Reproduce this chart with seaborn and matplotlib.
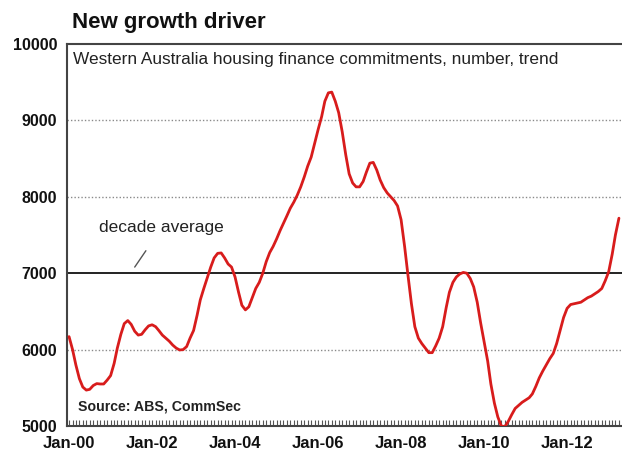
import numpy as np
import pandas as pd
import matplotlib
matplotlib.use("Agg")
import matplotlib.pyplot as plt
import matplotlib.dates as mdates
import seaborn as sns

# Western Australia housing finance commitments (number, trend), monthly from Jan-2000
y2000 = [6170, 6000, 5800, 5620, 5510, 5470, 5480, 5530, 5555, 5550, 5550, 5600]
y2001 = [5660, 5820, 6020, 6200, 6340, 6380, 6330, 6240, 6190, 6200, 6260, 6310]
y2002 = [6325, 6300, 6250, 6190, 6150, 6110, 6060, 6020, 5995, 6000, 6040, 6150]
y2003 = [6250, 6450, 6650, 6800, 6940, 7080, 7200, 7260, 7265, 7200, 7120, 7080]
y2004 = [6950, 6750, 6580, 6520, 6560, 6680, 6800, 6880, 7000, 7150, 7270, 7350]
y2005 = [7450, 7560, 7650, 7750, 7850, 7930, 8020, 8130, 8260, 8400, 8520, 8700]
y2006 = [8880, 9050, 9250, 9360, 9370, 9250, 9100, 8850, 8550, 8300, 8180, 8130]
y2007 = [8130, 8200, 8320, 8440, 8450, 8350, 8220, 8120, 8050, 8000, 7950, 7880]
y2008 = [7700, 7350, 6980, 6600, 6300, 6150, 6080, 6020, 5960, 5960, 6050, 6150]
y2009 = [6300, 6550, 6750, 6880, 6950, 6990, 7010, 7000, 6930, 6820, 6620, 6350]
y2010 = [6100, 5850, 5550, 5300, 5120, 5000, 4990, 5060, 5150, 5230, 5270, 5310]
y2011 = [5340, 5370, 5420, 5520, 5630, 5720, 5800, 5880, 5950, 6080, 6250, 6420]
y2012 = [6540, 6590, 6600, 6610, 6620, 6650, 6680, 6700, 6730, 6760, 6800, 6900]
y2013 = [7020, 7250, 7500, 7720]

commitments = (y2000 + y2001 + y2002 + y2003 + y2004 + y2005 + y2006 + y2007
               + y2008 + y2009 + y2010 + y2011 + y2012 + y2013)
months = pd.date_range("2000-01-01", periods=len(commitments), freq="MS")

decade_average = 7000
y_ticks = [5000, 6000, 7000, 8000, 9000, 10000]
x_tick_years = [2000, 2002, 2004, 2006, 2008, 2010, 2012]

df = pd.DataFrame({"month": months, "commitments": commitments})

sns.set_style("white")
plt.rcParams["font.family"] = ["Liberation Sans", "DejaVu Sans"]

fig = plt.figure(figsize=(6.22, 4.5), dpi=100)
ax = fig.add_axes([0.1077, 0.0533, 0.8923, 0.849])

# reference levels
for v in y_ticks[1:-1]:
    if v != decade_average:
        ax.axhline(v, color="#8a8a8a", lw=1.0, ls=(0, (1, 1.5)), zorder=1)
ax.axhline(decade_average, color="#222222", lw=1.4, zorder=2)

sns.lineplot(data=df, x="month", y="commitments", color="#d81c1c", lw=2.0,
             ax=ax, zorder=3)

ax.set_ylim(y_ticks[0], y_ticks[-1])
ax.set_xlim(months[0] - pd.Timedelta(days=18), months[-1] + pd.Timedelta(days=27))
ax.set_yticks(y_ticks)
ax.set_yticklabels([str(v) for v in y_ticks], fontsize=11.5, fontweight="bold")
ax.set_xticks([pd.Timestamp(f"{y}-01-01") for y in x_tick_years])
ax.set_xticklabels([f"Jan-{y % 100:02d}" for y in x_tick_years],
                   fontsize=12, fontweight="bold")
ax.xaxis.set_minor_locator(mdates.MonthLocator())
ax.set_xlabel("")
ax.set_ylabel("")

ax.tick_params(axis="y", length=0, pad=7, colors="#111111")
ax.tick_params(axis="x", which="both", bottom=True, direction="in", length=4,
               width=0.8, color="#555555", pad=7)
ax.tick_params(axis="x", labelcolor="#111111")

for side in ["left", "top", "bottom"]:
    ax.spines[side].set_color("#444444")
    ax.spines[side].set_linewidth(1.5)
ax.spines["right"].set_visible(False)

fig.text(72 / 622, 1 - 28 / 450, "New growth driver", fontsize=16,
         fontweight="bold", color="#111111", ha="left", va="baseline")
ax.text(0.011, 0.96, "Western Australia housing finance commitments, number, trend",
        transform=ax.transAxes, fontsize=12.4, color="#222222", ha="left", va="center")
ax.text(0.019, 0.05, "Source: ABS, CommSec", transform=ax.transAxes,
        fontsize=10.2, fontweight="bold", color="#222222", ha="left", va="center")

ax.annotate("decade average",
            xy=(pd.Timestamp("2001-08-01"), decade_average + 80),
            xytext=(pd.Timestamp("2000-09-25"), 7600),
            fontsize=12.5, color="#222222", ha="left", va="center",
            arrowprops=dict(arrowstyle="-", color="#555555", lw=1.0,
                            shrinkA=11, shrinkB=0))

fig.savefig("out.png", dpi=100)
